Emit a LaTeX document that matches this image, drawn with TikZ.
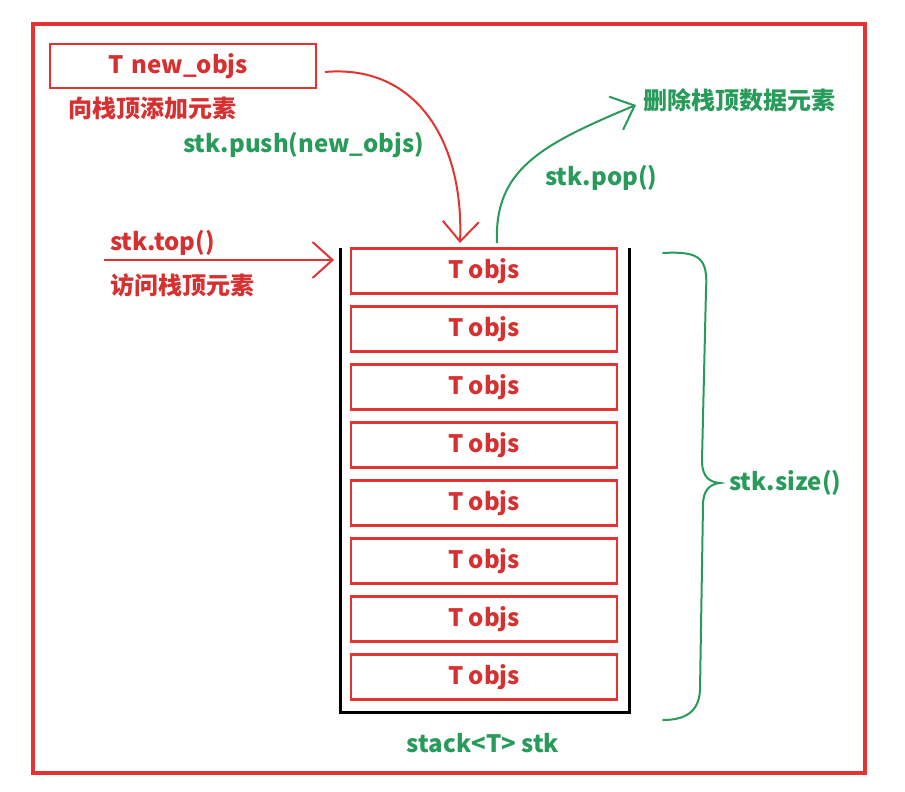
\documentclass[tikz,border=0pt]{standalone}
\usepackage{fontspec}
\setmainfont{Noto Sans CJK SC}
\usetikzlibrary{arrows.meta}
\definecolor{myred}{RGB}{228,52,50}
\definecolor{txtred}{RGB}{215,48,48}
\definecolor{mygreen}{RGB}{40,155,90}
\tikzset{
  objbox/.style={draw=myred, line width=2.5pt, minimum width=266pt, minimum height=45pt, inner sep=0pt, text=txtred, font=\fontsize{24pt}{26pt}\selectfont\bfseries},
  redlbl/.style={text=txtred, font=\fontsize{24pt}{26pt}\selectfont\bfseries, inner sep=0pt},
  greenlbl/.style={text=mygreen, font=\fontsize{24pt}{26pt}\selectfont\bfseries, inner sep=0pt},
  vhead/.style={-{Straight Barb[length=20pt,width=36pt,line width=2pt]}},
  redarrow/.style={draw=myred, line width=2pt, vhead},
  greenarrow/.style={draw=mygreen, line width=2pt, vhead},
}
\begin{document}
\begin{tikzpicture}[x=1pt,y=-1pt]
\useasboundingbox (0,0) rectangle (905,792);
\fill[white] (0,0) rectangle (905,792);
% outer frame
\draw[myred, line width=4pt] (33,24) rectangle (865,773);
% new_objs box
\node[objbox, minimum width=266pt, minimum height=44pt, text width=256pt, align=center] (newobj) at (183,66) {\hspace*{-10pt}T new\_objs};
\node[redlbl, anchor=west] (pushcn) at (68,108) {向栈顶添加元素};
\node[greenlbl, anchor=west] (pushlbl) at (183,145) {stk.push(new\_objs)};
% stack container
\coordinate (ctl) at (340,248);
\coordinate (cbl) at (340,712);
\coordinate (cbr) at (629,712);
\coordinate (ctr) at (629,248);
\draw[black, line width=3pt] (ctl) -- (cbl) -- (cbr) -- (ctr);
% boxes
\foreach \i in {1,...,8}{
  \node[objbox] (b\i) at (484,{271+58*(\i-1)}) {T objs};
}
% push arrow
\coordinate (pushstart) at (325,72);
\coordinate (pushend) at (460,243);
\draw[redarrow] (pushstart) .. controls (415,64) and (464,140) .. (pushend);
% top arrow
\coordinate (topstart) at (104,260);
\coordinate (topend) at (334,260);
\draw[redarrow] (topstart) -- (topend);
\node[redlbl, anchor=west] (toplbl) at (110,243) {stk.top()};
\node[redlbl, anchor=west] (topcn) at (110,285) {访问栈顶元素};
% pop arrow
\coordinate (popstart) at (497,243);
\coordinate (popend) at (636,105);
\draw[greenarrow] (popstart) .. controls (494,170) and (540,145) .. (popend);
\node[greenlbl, anchor=west] (popcn) at (643,100) {删除栈顶数据元素};
\node[greenlbl, anchor=west] (poplbl) at (545,178) {stk.pop()};
% brace
\draw[mygreen, line width=2pt, line cap=round]
  (663,253) .. controls (700,251) and (708,258) .. (706,290)
  -- (702,460) .. controls (702,478) and (710,482) .. (720,483)
  .. controls (710,484) and (703,490) .. (703,505)
  -- (700,690) .. controls (699,712) and (685,720) .. (663,720);
\node[greenlbl, anchor=west] (sizelbl) at (729,483) {stk.size()};
\node[greenlbl] (stklbl) at (483,743) {stack<T> stk};
\end{tikzpicture}
\end{document}
